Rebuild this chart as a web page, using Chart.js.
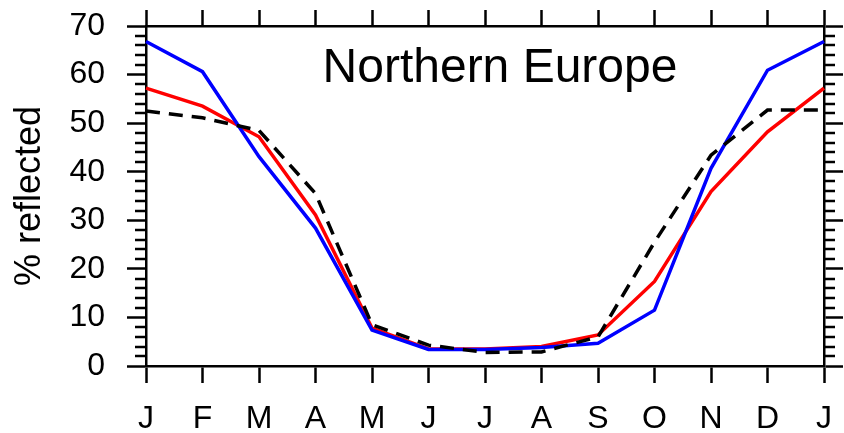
<!DOCTYPE html>
<html>
<head>
<meta charset="utf-8">
<script src="https://cdn.jsdelivr.net/npm/chart.js@4/dist/chart.umd.min.js"></script>
<style>
  html, body { margin: 0; padding: 0; background: #fff; }
  #wrap { width: 844px; height: 433px; }
</style>
</head>
<body>
<div id="wrap"><canvas id="c" width="844" height="433"></canvas></div>
<script>
const months = ['J','F','M','A','M','J','J','A','S','O','N','D','J'];
const redSeries   = [57.2, 53.5, 47.2, 31.1, 7.8, 3.5, 3.5, 4.0, 6.4, 17.4, 35.9, 48.2, 57.2];
const blueSeries  = [66.8, 60.6, 43.1, 28.4, 7.4, 3.4, 3.4, 3.8, 4.7, 11.5, 40.7, 60.9, 66.8];
const blackSeries = [52.5, 51.1, 48.5, 35.5, 8.5, 4.3, 2.8, 2.9, 6.0, 25.5, 43.4, 52.7, 52.7];
const yTicks = [0, 10, 20, 30, 40, 50, 60, 70];
const yMinorTicks = [2,4,6,8,12,14,16,18,22,24,26,28,32,34,36,38,42,44,46,48,52,54,56,58,62,64,66,68];
const titleText = 'Northern Europe';
const yTitle = '% reflected';

const FONT = "'Liberation Sans', Arial, Helvetica, sans-serif";

const extras = {
  id: 'extras',
  afterDraw(chart) {
    const ctx = chart.ctx;
    const a = chart.chartArea;
    const y = chart.scales.y;
    ctx.save();
    ctx.strokeStyle = '#000';
    ctx.lineWidth = 2.5;
    ctx.beginPath();
    yMinorTicks.forEach(v => {
      const py = Math.round(y.getPixelForValue(v));
      ctx.moveTo(a.left - 11, py); ctx.lineTo(a.left, py);
      ctx.moveTo(a.right, py); ctx.lineTo(a.right + 11, py);
    });
    ctx.stroke();
    ctx.fillStyle = '#000';
    ctx.font = '48px ' + FONT;
    ctx.textAlign = 'center';
    ctx.textBaseline = 'alphabetic';
    ctx.fillText(titleText, (a.left + a.right) / 2 + 15, a.top + 56);
    ctx.restore();
  }
};

const tickGrid = (len) => ({
  drawOnChartArea: false,
  drawTicks: true,
  tickLength: len,
  tickWidth: 2.5,
  tickColor: '#000',
  color: '#000',
  offset: false
});
const border = { display: true, color: '#000', width: 2.5 };
const noPad = s => { s.paddingTop = 0; s.paddingBottom = 0; s.paddingLeft = 0; s.paddingRight = 0; };

new Chart(document.getElementById('c'), {
  type: 'line',
  data: {
    labels: months,
    datasets: [
      { data: blackSeries, borderColor: '#000', borderWidth: 3.5, borderDash: [14, 9], pointRadius: 0, fill: false, tension: 0, order: 1 },
      { data: blueSeries,  borderColor: '#0000ff', borderWidth: 3.5, pointRadius: 0, fill: false, tension: 0, order: 2 },
      { data: redSeries,   borderColor: '#ff0000', borderWidth: 3.5, pointRadius: 0, fill: false, tension: 0, order: 3 }
    ]
  },
  options: {
    responsive: false,
    animation: false,
    devicePixelRatio: 1,
    layout: { padding: 0 },
    plugins: { legend: { display: false }, title: { display: false }, tooltip: { enabled: false } },
    scales: {
      x: {
        type: 'category', position: 'bottom', offset: false,
        grid: tickGrid(17), border: border,
        ticks: { color: '#000', font: { family: FONT, size: 32 }, padding: 17, maxRotation: 0, autoSkip: false },
        afterFit: s => { s.height = 67; noPad(s); }
      },
      x2: {
        type: 'category', position: 'top', offset: false, labels: months,
        grid: tickGrid(16), border: border,
        ticks: { display: false, autoSkip: false },
        afterFit: s => { s.height = 26; noPad(s); }
      },
      y: {
        position: 'left', min: 0, max: 70,
        afterBuildTicks: s => { s.ticks = yTicks.map(v => ({ value: v })); },
        grid: tickGrid(19), border: border,
        ticks: { color: '#000', font: { family: FONT, size: 32 }, padding: 22 },
        title: { display: true, text: yTitle, color: '#000', font: { family: FONT, size: 36 }, padding: { top: 8, bottom: 0 } },
        afterFit: s => { s.width = 146; noPad(s); }
      },
      y2: {
        position: 'right', min: 0, max: 70,
        afterBuildTicks: s => { s.ticks = yTicks.map(v => ({ value: v })); },
        grid: tickGrid(19), border: border,
        ticks: { display: false },
        afterFit: s => { s.width = 20; noPad(s); }
      }
    }
  },
  plugins: [extras]
});
</script>
</body>
</html>
